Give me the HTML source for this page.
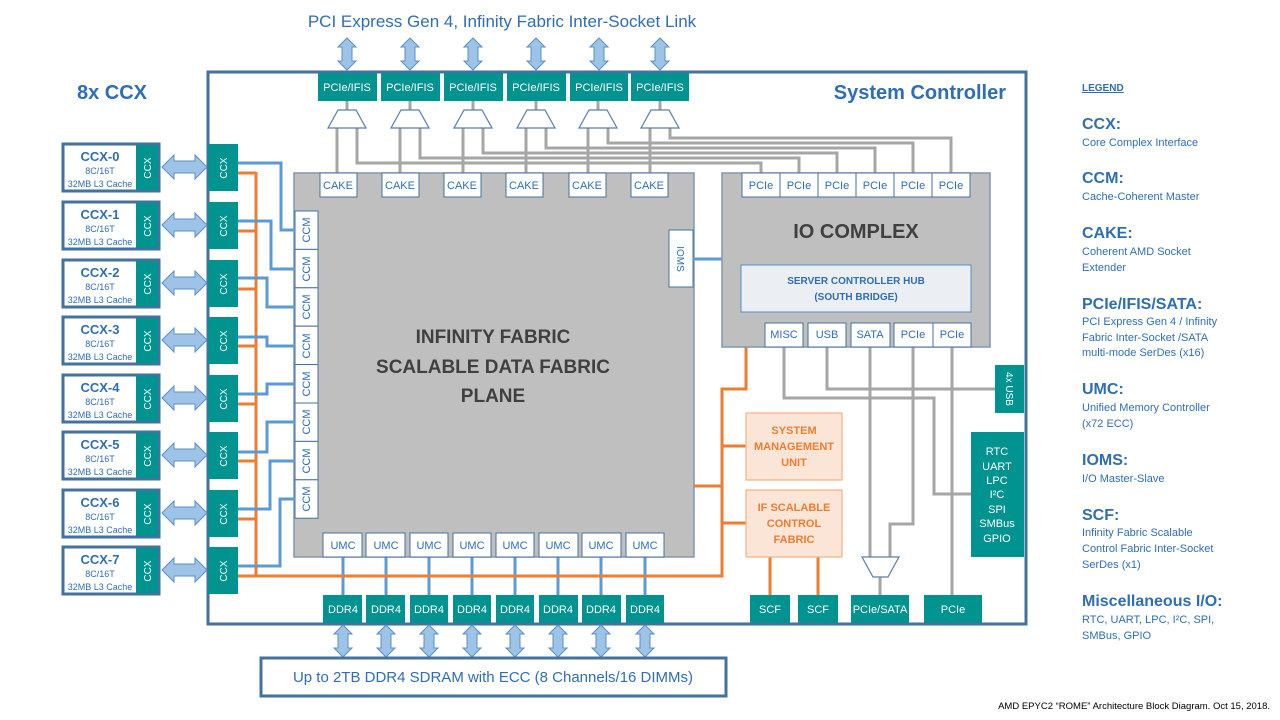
<!DOCTYPE html>
<html><head><meta charset="utf-8"><style>
html,body{margin:0;padding:0;background:#fff;}
svg{display:block;font-family:"Liberation Sans",sans-serif;}
</style></head><body>
<svg width="1280" height="720" viewBox="0 0 1280 720" xmlns="http://www.w3.org/2000/svg">
<rect width="1280" height="720" fill="#fff"/>
<text x="502" y="27" font-size="17" fill="#2f6eb5" text-anchor="middle">PCI Express Gen 4, Infinity Fabric Inter-Socket Link</text>
<text x="112" y="99" font-size="20" font-weight="bold" fill="#2f6eb5" text-anchor="middle">8x CCX</text>

<rect x="208" y="72" width="818" height="552" fill="none" stroke="#44729e" stroke-width="3"/>
<text x="1006" y="99" font-size="20" font-weight="bold" fill="#2f6eb5" text-anchor="end">System Controller</text>

<g stroke="#a6a6a6" stroke-width="3" fill="none">
<path d="M347,101V110"/><path d="M410,101V110"/><path d="M473,101V110"/><path d="M536,101V110"/><path d="M598,101V110"/><path d="M660,101V110"/>
<path d="M337,128V173"/><path d="M400,128V173"/><path d="M463,128V173"/><path d="M526,128V173"/><path d="M588,128V173"/><path d="M650,128V173"/>
<path d="M357,128V163H761V173"/>
<path d="M420,128V158H799V173"/>
<path d="M483,128V153H837V173"/>
<path d="M546,128V148H875V173"/>
<path d="M608,128V143H913V173"/>
<path d="M670,128V138H951V173"/>
<path d="M784,347V398H934V494H972"/>
<path d="M827,347V389H995"/>
<path d="M870,347V557"/>
<path d="M913,347V524H890V557"/>
<path d="M952,347V595"/>
<path d="M880,577V595"/>
</g>

<g fill="#fff" stroke="#5a7fa8" stroke-width="1.2">
<path d="M338,110H356L366,128H328Z"/>
<path d="M401,110H419L429,128H391Z"/>
<path d="M464,110H482L492,128H454Z"/>
<path d="M527,110H545L555,128H517Z"/>
<path d="M589,110H607L617,128H579Z"/>
<path d="M651,110H669L679,128H641Z"/>
<path d="M862,557H899L888,577H873Z"/>
</g>

<g fill="#00938f">
<rect x="318" y="73" width="59" height="28"/><rect x="381" y="73" width="59" height="28"/><rect x="444" y="73" width="59" height="28"/>
<rect x="507" y="73" width="59" height="28"/><rect x="570" y="73" width="58" height="28"/><rect x="631" y="73" width="58" height="28"/>
</g>
<g font-size="11" fill="#fff" text-anchor="middle">
<text x="347" y="91">PCIe/IFIS</text><text x="410" y="91">PCIe/IFIS</text><text x="473" y="91">PCIe/IFIS</text>
<text x="536" y="91">PCIe/IFIS</text><text x="599" y="91">PCIe/IFIS</text><text x="660" y="91">PCIe/IFIS</text>
</g>

<g fill="#9dc3e6" stroke="#5b8fc7" stroke-width="1">
<path d="M347,38L356,47H352V61H356L347,70L338,61H342V47H338Z"/>
<path d="M410,38L419,47H415V61H419L410,70L401,61H405V47H401Z"/>
<path d="M473,38L482,47H478V61H482L473,70L464,61H468V47H464Z"/>
<path d="M536,38L545,47H541V61H545L536,70L527,61H531V47H527Z"/>
<path d="M599,38L608,47H604V61H608L599,70L590,61H594V47H590Z"/>
<path d="M660,38L669,47H665V61H669L660,70L651,61H655V47H651Z"/>
<path d="M343,625L352,634H348V648H352L343,657L334,648H338V634H334Z"/>
<path d="M386,625L395,634H391V648H395L386,657L377,648H381V634H377Z"/>
<path d="M429,625L438,634H434V648H438L429,657L420,648H424V634H420Z"/>
<path d="M472,625L481,634H477V648H481L472,657L463,648H467V634H463Z"/>
<path d="M515,625L524,634H520V648H524L515,657L506,648H510V634H506Z"/>
<path d="M558,625L567,634H563V648H567L558,657L549,648H553V634H549Z"/>
<path d="M601,625L610,634H606V648H610L601,657L592,648H596V634H592Z"/>
<path d="M645,625L654,634H650V648H654L645,657L636,648H640V634H636Z"/>
</g>

<rect x="294" y="173" width="400" height="384" fill="#bfbfbf" stroke="#8497b0" stroke-width="1.5"/>
<g font-size="19" font-weight="bold" fill="#404040" text-anchor="middle">
<text x="493" y="343">INFINITY FABRIC</text>
<text x="493" y="373">SCALABLE DATA FABRIC</text>
<text x="493" y="402">PLANE</text>
</g>
<g fill="#fff" stroke="#44729e" stroke-width="1">
<rect x="320" y="173" width="37" height="24"/><rect x="382" y="173" width="37" height="24"/><rect x="444" y="173" width="37" height="24"/>
<rect x="506" y="173" width="37" height="24"/><rect x="569" y="173" width="37" height="24"/><rect x="631" y="173" width="37" height="24"/>
</g>
<g font-size="11" fill="#2f6eb5" text-anchor="middle">
<text x="338" y="189">CAKE</text><text x="400" y="189">CAKE</text><text x="462" y="189">CAKE</text>
<text x="524" y="189">CAKE</text><text x="587" y="189">CAKE</text><text x="649" y="189">CAKE</text>
</g>
<g fill="#fff" stroke="#44729e" stroke-width="1">
<rect x="295" y="211" width="23" height="38.4"/><rect x="295" y="249.4" width="23" height="38.4"/>
<rect x="295" y="287.8" width="23" height="38.4"/><rect x="295" y="326.2" width="23" height="38.4"/>
<rect x="295" y="364.6" width="23" height="38.4"/><rect x="295" y="403" width="23" height="38.4"/>
<rect x="295" y="441.4" width="23" height="38.4"/><rect x="295" y="479.8" width="23" height="38.4"/>
</g>
<g font-size="11" fill="#2f6eb5" text-anchor="middle">
<text transform="translate(310,230) rotate(-90)">CCM</text>
<text transform="translate(310,269) rotate(-90)">CCM</text>
<text transform="translate(310,307) rotate(-90)">CCM</text>
<text transform="translate(310,346) rotate(-90)">CCM</text>
<text transform="translate(310,384) rotate(-90)">CCM</text>
<text transform="translate(310,422) rotate(-90)">CCM</text>
<text transform="translate(310,461) rotate(-90)">CCM</text>
<text transform="translate(310,499) rotate(-90)">CCM</text>
</g>
<rect x="669" y="230" width="24" height="57" fill="#fff" stroke="#44729e" stroke-width="1"/>
<text transform="translate(677,259) rotate(90)" font-size="10" fill="#2f6eb5" text-anchor="middle">IOMS</text>
<path d="M693,259H722" stroke="#5b9bd5" stroke-width="3"/>

<g stroke="#5b9bd5" stroke-width="3">
<path d="M343,557V595"/><path d="M386,557V595"/><path d="M429,557V595"/><path d="M472,557V595"/>
<path d="M515,557V595"/><path d="M558,557V595"/><path d="M601,557V595"/><path d="M645,557V595"/>
</g>
<g fill="#fff" stroke="#44729e" stroke-width="1">
<rect x="323" y="533" width="39" height="24"/><rect x="366" y="533" width="39" height="24"/><rect x="410" y="533" width="38" height="24"/>
<rect x="453" y="533" width="38" height="24"/><rect x="496" y="533" width="38" height="24"/><rect x="539" y="533" width="39" height="24"/>
<rect x="582" y="533" width="39" height="24"/><rect x="626" y="533" width="38" height="24"/>
</g>
<g font-size="11" fill="#2f6eb5" text-anchor="middle">
<text x="343" y="549">UMC</text><text x="386" y="549">UMC</text><text x="429" y="549">UMC</text><text x="472" y="549">UMC</text>
<text x="515" y="549">UMC</text><text x="558" y="549">UMC</text><text x="601" y="549">UMC</text><text x="645" y="549">UMC</text>
</g>

<g stroke="#ed7d31" stroke-width="3" fill="none">
<path d="M256,172V576"/>
<path d="M238,173H256"/><path d="M238,231H256"/><path d="M238,289H256"/><path d="M238,346H256"/>
<path d="M238,404H256"/><path d="M238,461H256"/><path d="M238,519H256"/><path d="M238,576H722V389H746V347"/>
<path d="M694,486H722"/><path d="M722,446H746"/><path d="M722,523H746"/>
<path d="M770,557V595"/><path d="M818,557V595"/>
</g>

<g stroke="#5b9bd5" stroke-width="3" fill="none">
<path d="M238,163H281V230H295"/>
<path d="M238,221H271V269H295"/>
<path d="M238,278H267V307H295"/>
<path d="M238,337H267V346H295"/>
<path d="M238,394H267V384H295"/>
<path d="M238,452H267V422H295"/>
<path d="M238,509H270V461H295"/>
<path d="M238,566H280V499H295"/>
</g>

<g fill="#00938f">
<rect x="323" y="595" width="39" height="28"/><rect x="366" y="595" width="39" height="28"/><rect x="410" y="595" width="38" height="28"/>
<rect x="453" y="595" width="38" height="28"/><rect x="496" y="595" width="38" height="28"/><rect x="539" y="595" width="39" height="28"/>
<rect x="582" y="595" width="39" height="28"/><rect x="626" y="595" width="38" height="28"/>
</g>
<g font-size="11" fill="#fff" text-anchor="middle">
<text x="343" y="613">DDR4</text><text x="386" y="613">DDR4</text><text x="429" y="613">DDR4</text><text x="472" y="613">DDR4</text>
<text x="515" y="613">DDR4</text><text x="558" y="613">DDR4</text><text x="601" y="613">DDR4</text><text x="645" y="613">DDR4</text>
</g>
<rect x="261" y="658" width="465" height="38" fill="#fff" stroke="#44729e" stroke-width="3"/>
<text x="493" y="682" font-size="15" fill="#2f6eb5" text-anchor="middle">Up to 2TB DDR4 SDRAM with ECC (8 Channels/16 DIMMs)</text>

<rect x="722" y="173" width="268" height="174" fill="#bfbfbf" stroke="#8497b0" stroke-width="1.5"/>
<text x="856" y="238" font-size="20" font-weight="bold" fill="#404040" text-anchor="middle">IO COMPLEX</text>
<rect x="741" y="265" width="230" height="47" fill="#ebeef3" stroke="#5b8fc7" stroke-width="1"/>
<text x="856" y="284" font-size="10" font-weight="bold" fill="#2f6eb5" text-anchor="middle">SERVER CONTROLLER HUB</text>
<text x="856" y="300" font-size="10" font-weight="bold" fill="#2f6eb5" text-anchor="middle">(SOUTH BRIDGE)</text>
<g fill="#fff" stroke="#44729e" stroke-width="1">
<rect x="742" y="173" width="38" height="24"/><rect x="780" y="173" width="38" height="24"/><rect x="818" y="173" width="38" height="24"/>
<rect x="856" y="173" width="38" height="24"/><rect x="894" y="173" width="38" height="24"/><rect x="932" y="173" width="38" height="24"/>
<rect x="765" y="323" width="38" height="24"/><rect x="808" y="323" width="38" height="24"/><rect x="851" y="323" width="39" height="24"/>
<rect x="894" y="323" width="39" height="24"/><rect x="933" y="323" width="38" height="24"/>
</g>
<g font-size="11" fill="#2f6eb5" text-anchor="middle">
<text x="761" y="189">PCIe</text><text x="799" y="189">PCIe</text><text x="837" y="189">PCIe</text>
<text x="875" y="189">PCIe</text><text x="913" y="189">PCIe</text><text x="951" y="189">PCIe</text>
<text x="784" y="338">MISC</text><text x="827" y="338">USB</text><text x="870" y="338">SATA</text>
<text x="913" y="338">PCIe</text><text x="952" y="338">PCIe</text>
</g>

<rect x="746" y="413" width="96" height="67" fill="#fbe5d6" stroke="#f4b183" stroke-width="1.2"/>
<rect x="746" y="490" width="96" height="67" fill="#fbe5d6" stroke="#f4b183" stroke-width="1.2"/>
<g font-size="11" font-weight="bold" fill="#ed7d31" text-anchor="middle">
<text x="794" y="434">SYSTEM</text><text x="794" y="450">MANAGEMENT</text><text x="794" y="466">UNIT</text>
<text x="794" y="511">IF SCALABLE</text><text x="794" y="527">CONTROL</text><text x="794" y="543">FABRIC</text>
</g>

<g fill="#00938f">
<rect x="995" y="365" width="29" height="48"/>
<rect x="971" y="432" width="53" height="125"/>
<rect x="750" y="595" width="40" height="28"/><rect x="798" y="595" width="40" height="28"/>
<rect x="851" y="595" width="58" height="28"/><rect x="924" y="595" width="58" height="28"/>
</g>
<text transform="translate(1006,389) rotate(90)" font-size="10" fill="#fff" text-anchor="middle">4x USB</text>
<g font-size="11" fill="#fff" text-anchor="middle">
<text x="997" y="455">RTC</text><text x="997" y="470">UART</text><text x="997" y="484">LPC</text>
<text x="997" y="498">I²C</text><text x="997" y="513">SPI</text><text x="997" y="527">SMBus</text><text x="997" y="542">GPIO</text>
<text x="770" y="613">SCF</text><text x="818" y="613">SCF</text><text x="880" y="613">PCIe/SATA</text><text x="953" y="613">PCIe</text>
</g>

<g>
<g fill="#fff" stroke="#44729e" stroke-width="3">
<rect x="63" y="144" width="96" height="47"/><rect x="63" y="202" width="96" height="47"/><rect x="63" y="260" width="96" height="47"/>
<rect x="63" y="317" width="96" height="47"/><rect x="63" y="375" width="96" height="47"/><rect x="63" y="432" width="96" height="47"/>
<rect x="63" y="490" width="96" height="47"/><rect x="63" y="547" width="96" height="47"/>
</g>
<g fill="#00938f">
<rect x="136" y="145" width="22" height="45"/><rect x="136" y="203" width="22" height="45"/><rect x="136" y="261" width="22" height="45"/>
<rect x="136" y="318" width="22" height="45"/><rect x="136" y="376" width="22" height="45"/><rect x="136" y="433" width="22" height="45"/>
<rect x="136" y="491" width="22" height="45"/><rect x="136" y="548" width="22" height="45"/>
<rect x="208" y="144" width="30" height="47"/><rect x="208" y="202" width="30" height="47"/><rect x="208" y="260" width="30" height="47"/>
<rect x="208" y="317" width="30" height="47"/><rect x="208" y="375" width="30" height="47"/><rect x="208" y="432" width="30" height="47"/>
<rect x="208" y="490" width="30" height="47"/><rect x="208" y="547" width="30" height="47"/>
</g>
<g font-size="10" fill="#fff" text-anchor="middle">
<text transform="translate(151,168) rotate(-90)">CCX</text><text transform="translate(151,226) rotate(-90)">CCX</text>
<text transform="translate(151,284) rotate(-90)">CCX</text><text transform="translate(151,341) rotate(-90)">CCX</text>
<text transform="translate(151,399) rotate(-90)">CCX</text><text transform="translate(151,456) rotate(-90)">CCX</text>
<text transform="translate(151,514) rotate(-90)">CCX</text><text transform="translate(151,571) rotate(-90)">CCX</text>
<text transform="translate(227,168) rotate(-90)">CCX</text><text transform="translate(227,226) rotate(-90)">CCX</text>
<text transform="translate(227,284) rotate(-90)">CCX</text><text transform="translate(227,341) rotate(-90)">CCX</text>
<text transform="translate(227,399) rotate(-90)">CCX</text><text transform="translate(227,456) rotate(-90)">CCX</text>
<text transform="translate(227,514) rotate(-90)">CCX</text><text transform="translate(227,571) rotate(-90)">CCX</text>
</g>
<g fill="#2f6eb5" text-anchor="middle">
<g font-size="13" font-weight="bold">
<text x="100" y="161">CCX-0</text><text x="100" y="219">CCX-1</text><text x="100" y="277">CCX-2</text><text x="100" y="334">CCX-3</text>
<text x="100" y="392">CCX-4</text><text x="100" y="449">CCX-5</text><text x="100" y="507">CCX-6</text><text x="100" y="564">CCX-7</text>
</g>
<g font-size="9">
<text x="100" y="174">8C/16T</text><text x="100" y="232">8C/16T</text><text x="100" y="290">8C/16T</text><text x="100" y="347">8C/16T</text>
<text x="100" y="405">8C/16T</text><text x="100" y="462">8C/16T</text><text x="100" y="520">8C/16T</text><text x="100" y="577">8C/16T</text>
<text x="100" y="187">32MB L3 Cache</text><text x="100" y="245">32MB L3 Cache</text><text x="100" y="303">32MB L3 Cache</text><text x="100" y="360">32MB L3 Cache</text>
<text x="100" y="418">32MB L3 Cache</text><text x="100" y="475">32MB L3 Cache</text><text x="100" y="533">32MB L3 Cache</text><text x="100" y="590">32MB L3 Cache</text>
</g>
</g>
<g fill="#9dc3e6" stroke="#5b8fc7" stroke-width="1">
<path d="M162,167L174,155V161H195V155L207,167L195,179V173H174V179Z"/>
<path d="M162,225L174,213V219H195V213L207,225L195,237V231H174V237Z"/>
<path d="M162,283L174,271V277H195V271L207,283L195,295V289H174V295Z"/>
<path d="M162,340L174,328V334H195V328L207,340L195,352V346H174V352Z"/>
<path d="M162,398L174,386V392H195V386L207,398L195,410V404H174V410Z"/>
<path d="M162,455L174,443V449H195V443L207,455L195,467V461H174V467Z"/>
<path d="M162,513L174,501V507H195V501L207,513L195,525V519H174V525Z"/>
<path d="M162,570L174,558V564H195V558L207,570L195,582V576H174V582Z"/>
</g>
</g>

<g fill="#2f6eb5">
<text x="1082" y="91" font-size="10" font-weight="bold" text-decoration="underline">LEGEND</text>
<g font-size="16" font-weight="bold">
<text x="1082" y="129">CCX:</text><text x="1082" y="183">CCM:</text><text x="1082" y="238">CAKE:</text>
<text x="1082" y="309">PCIe/IFIS/SATA:</text><text x="1082" y="394">UMC:</text><text x="1082" y="465">IOMS:</text>
<text x="1082" y="520">SCF:</text><text x="1082" y="606">Miscellaneous I/O:</text>
</g>
<g font-size="11">
<text x="1082" y="146">Core Complex Interface</text>
<text x="1082" y="200">Cache-Coherent Master</text>
<text x="1082" y="255">Coherent AMD Socket</text><text x="1082" y="271">Extender</text>
<text x="1082" y="325">PCI Express Gen 4 / Infinity</text><text x="1082" y="341">Fabric Inter-Socket /SATA</text><text x="1082" y="356">multi-mode SerDes (x16)</text>
<text x="1082" y="411">Unified Memory Controller</text><text x="1082" y="427">(x72 ECC)</text>
<text x="1082" y="482">I/O Master-Slave</text>
<text x="1082" y="536">Infinity Fabric Scalable</text><text x="1082" y="552">Control Fabric Inter-Socket</text><text x="1082" y="568">SerDes (x1)</text>
<text x="1082" y="623">RTC, UART, LPC, I²C, SPI,</text><text x="1082" y="639">SMBus, GPIO</text>
</g>
</g>
<text x="1270" y="709" font-size="9.5" fill="#000" text-anchor="end">AMD EPYC2 “ROME” Architecture Block Diagram. Oct 15, 2018.</text>
</svg>
</body></html>
